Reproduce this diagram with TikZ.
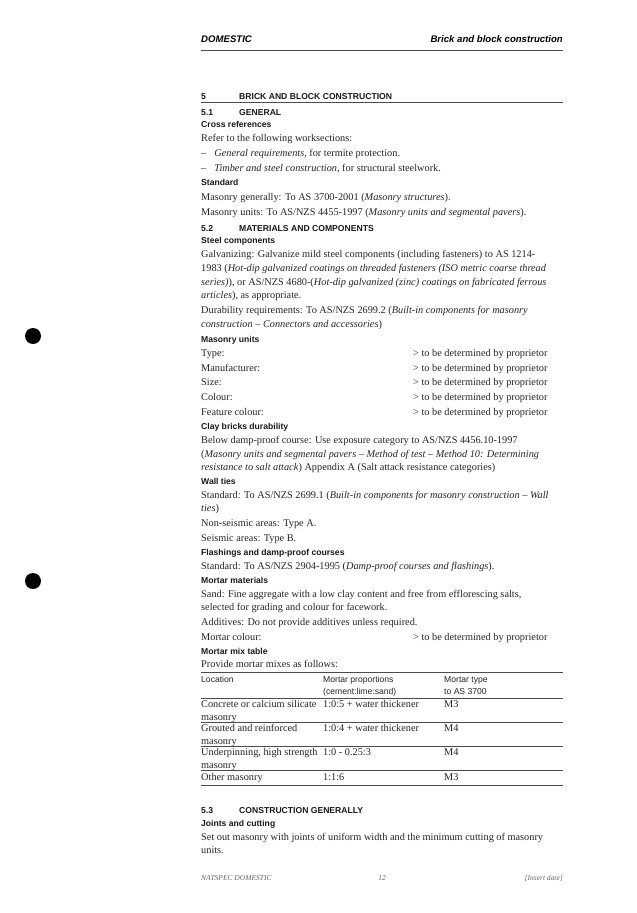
\documentclass[tikz,border=0pt]{standalone}
\usepackage{fontspec}
\setmainfont{Liberation Serif}
\setsansfont{Liberation Sans}
\newcounter{lno}
\tikzset{
  txt/.style={anchor=base west,inner sep=0pt,font=\fontsize{10.3}{12}\selectfont,text=black!85},
  hd/.style={anchor=base west,inner sep=0pt,font=\sffamily\bfseries\fontsize{8.6}{10}\selectfont,text=black!90},
  th/.style={anchor=base west,inner sep=0pt,font=\sffamily\fontsize{8.6}{10}\selectfont,text=black!85},
  rule/.style={line width=0.6pt,black!70},
}
\newcommand\TL[3][txt]{\stepcounter{lno}\node[#1] (t\thelno) at (201,#2+3.5) {#3};}
\newcommand\TA[4][txt]{\stepcounter{lno}\node[#1] (t\thelno) at (#2,#3+3.5) {#4};}
\newcommand\PR[1]{\TA{413}{#1}{> to be determined by proprietor}}
\begin{document}
\begin{tikzpicture}[x=1pt,y=-1pt]
\useasboundingbox (0,0) rectangle (637,913);
\fill[white] (0,0) rectangle (637,913);
% header
\node[anchor=base west,inner sep=0pt,font=\sffamily\bfseries\itshape\fontsize{9.6}{11}\selectfont] (hl) at (201,42.5) {DOMESTIC};
\node[anchor=base east,inner sep=0pt,font=\sffamily\bfseries\itshape\fontsize{9.6}{11}\selectfont] (hr) at (563,42.5) {Brick and block construction};
\coordinate (r1a) at (201,50); \coordinate (r1b) at (563,50);
\draw[rule] (r1a) -- (r1b);
% section 5
\TL[hd]{96}{5}\TA[hd]{239}{96}{BRICK AND BLOCK CONSTRUCTION}
\coordinate (r2a) at (201,102); \coordinate (r2b) at (563,102);
\draw[rule] (r2a) -- (r2b);
\TL[hd]{112}{5.1}\TA[hd]{239}{112}{GENERAL}
\TL[hd]{124}{Cross references}
\TL{138}{Refer to the following worksections:}
\TL{153}{–\hspace{8pt}\textit{General requirements}, for termite protection.}
\TL{168}{–\hspace{8pt}\textit{Timber and steel construction}, for structural steelwork.}
\TL[hd]{182}{Standard}
\TL{197}{Masonry generally: To AS 3700-2001 (\textit{Masonry structures}).}
\TL{212}{Masonry units: To AS/NZS 4455-1997 (\textit{Masonry units and segmental pavers}).}
\TL[hd]{228}{5.2}\TA[hd]{239}{228}{MATERIALS AND COMPONENTS}
\TL[hd]{240}{Steel components}
\TL{254}{Galvanizing: Galvanize mild steel components (including fasteners) to AS 1214-}
\TL{268}{1983 (\textit{Hot-dip galvanized coatings on threaded fasteners (ISO metric coarse thread}}
\TL{282}{\textit{series)}), or AS/NZS 4680-(\textit{Hot-dip galvanized (zinc) coatings on fabricated ferrous}}
\TL{295}{\textit{articles}), as appropriate.}
\TL{310}{Durability requirements: To AS/NZS 2699.2 (\textit{Built-in components for masonry}}
\TL{324}{\textit{construction – Connectors and accessories})}
\TL[hd]{339}{Masonry units}
\TL{353}{Type:}\PR{353}
\TL{368}{Manufacturer:}\PR{368}
\TL{382}{Size:}\PR{382}
\TL{397}{Colour:}\PR{397}
\TL{412}{Feature colour:}\PR{412}
\TL[hd]{426}{Clay bricks durability}
\TL{440}{Below damp-proof course: Use exposure category to AS/NZS 4456.10-1997}
\TL{454}{(\textit{Masonry units and segmental pavers – Method of test – Method 10: Determining}}
\TL{467}{\textit{resistance to salt attack}) Appendix A (Salt attack resistance categories)}
\TL[hd]{481}{Wall ties}
\TL{495}{Standard: To AS/NZS 2699.1 (\textit{Built-in components for masonry construction – Wall}}
\TL{508}{\textit{ties})}
\TL{523}{Non-seismic areas: Type A.}
\TL{538}{Seismic areas: Type B.}
\TL[hd]{552}{Flashings and damp-proof courses}
\TL{566}{Standard: To AS/NZS 2904-1995 (\textit{Damp-proof courses and flashings}).}
\TL[hd]{580}{Mortar materials}
\TL{594}{Sand: Fine aggregate with a low clay content and free from efflorescing salts,}
\TL{607}{selected for grading and colour for facework.}
\TL{622}{Additives: Do not provide additives unless required.}
\TL{637}{Mortar colour:}\PR{637}
\TL[hd]{651}{Mortar mix table}
\TL{664}{Provide mortar mixes as follows:}
% table
\coordinate (ta) at (201,672); \coordinate (tb) at (563,672);
\draw[rule] (ta) -- (tb);
\TL[th]{679}{Location}\TA[th]{323}{679}{Mortar proportions}\TA[th]{444}{679}{Mortar type}
\TA[th]{323}{691}{(cement:lime:sand)}\TA[th]{444}{691}{to AS 3700}
\coordinate (tc) at (201,698); \coordinate (td) at (563,698);
\draw[rule] (tc) -- (td);
\TL{704}{Concrete or calcium silicate}\TA{323}{704}{1:0:5 + water thickener}\TA{444}{704}{M3}
\TL{717}{masonry}
\coordinate (te) at (201,722); \coordinate (tf) at (563,722);
\draw[rule,line width=0.4pt] (te) -- (tf);
\TL{728}{Grouted and reinforced}\TA{323}{728}{1:0:4 + water thickener}\TA{444}{728}{M4}
\TL{741}{masonry}
\coordinate (tg) at (201,746); \coordinate (th) at (563,746);
\draw[rule,line width=0.4pt] (tg) -- (th);
\TL{752}{Underpinning, high strength}\TA{323}{752}{1:0 - 0.25:3}\TA{444}{752}{M4}
\TL{765}{masonry}
\coordinate (ti) at (201,770); \coordinate (tj) at (563,770);
\draw[rule,line width=0.4pt] (ti) -- (tj);
\TL{777}{Other masonry}\TA{323}{777}{1:1:6}\TA{444}{777}{M3}
\coordinate (tk) at (201,785); \coordinate (tl) at (563,785);
\draw[rule] (tk) -- (tl);
\TL[hd]{810}{5.3}\TA[hd]{239}{810}{CONSTRUCTION GENERALLY}
\TL[hd]{823}{Joints and cutting}
\TL{837}{Set out masonry with joints of uniform width and the minimum cutting of masonry}
\TL{850}{units.}
% footer
\node[anchor=base west,inner sep=0pt,font=\itshape\fontsize{7.5}{9}\selectfont,text=black!60] (fl) at (201,880) {NATSPEC DOMESTIC};
\node[anchor=base,inner sep=0pt,font=\itshape\fontsize{7.5}{9}\selectfont,text=black!60] (fc) at (382,880) {12};
\node[anchor=base east,inner sep=0pt,font=\itshape\fontsize{7.5}{9}\selectfont,text=black!60] (fr) at (563,880) {[Insert date]};
% punch holes
\fill[black] (33,336) circle (8);
\fill[black] (33,581) circle (8);
\end{tikzpicture}
\end{document}
